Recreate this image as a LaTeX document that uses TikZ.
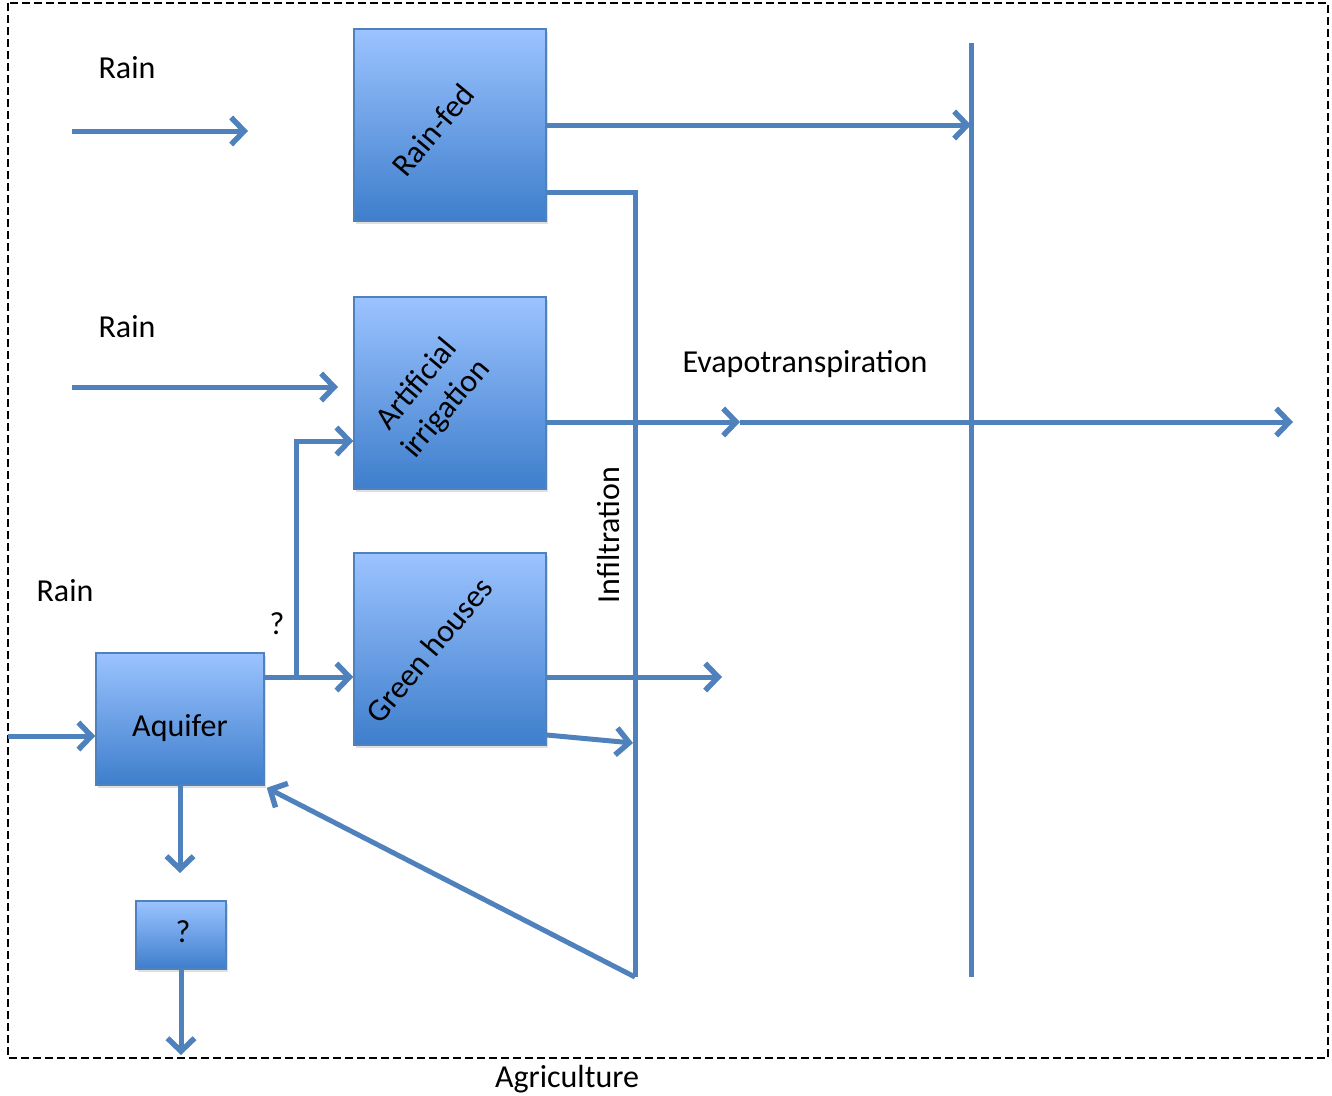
\documentclass[tikz,border=0pt]{standalone}
\usepackage{fontspec}
\setmainfont{Carlito}
\usetikzlibrary{arrows.meta,shadows}
\definecolor{lineblue}{RGB}{79,129,189}
\definecolor{boxtop}{RGB}{155,195,255}
\definecolor{boxbot}{RGB}{62,126,204}
\begin{document}
\begin{tikzpicture}[x=1pt,y=-1pt,
  flow/.style={draw=lineblue,line width=5pt},
  arr/.style={flow,-{Straight Barb[length=13pt,width=27pt,line width=5.5pt]}},
  blk/.style={draw=lineblue,line width=1.5pt,top color=boxtop,bottom color=boxbot,
    shading angle=0,inner sep=0pt,
    drop shadow={shadow xshift=2pt,shadow yshift=-3pt,opacity=0.25}},
  lbl/.style={font=\fontsize{32}{38}\selectfont,text=black,inner sep=0pt}]
\useasboundingbox (0,0) rectangle (1332,1095);
\draw[line width=2pt,dash pattern=on 8pt off 4pt] (8,3) rectangle (1328,1058);
% boxes
\node[blk,minimum width=192pt,minimum height=192pt] (rf) at (450,125) {};
\node[lbl,rotate=50] at (433,130) {Rain-fed};
\node[blk,minimum width=192pt,minimum height=192pt] (ai) at (450,393) {};
\node[lbl,rotate=50,align=center] at (432,397) {Artificial\\irrigation};
\node[blk,minimum width=192pt,minimum height=192pt] (gh) at (450,649) {};
\node[lbl,rotate=50] at (429,650) {Green houses};
\node[blk,minimum width=168pt,minimum height=132pt] (aq) at (180,719) {};
\node[lbl] at (180,728) {Aquifer};
\node[blk,minimum width=90pt,minimum height=68pt] (qb) at (181,935) {};
\node[lbl] at (183,932) {?};
% labels
\node[lbl] (r1) at (127,68) {Rain};
\node[lbl] (r2) at (127,327) {Rain};
\node[lbl] (r3) at (65,591) {Rain};
\node[lbl] (q) at (277,624) {?};
\node[lbl] (et) at (805,364) {Evapotranspiration};
\node[lbl,rotate=90] (inf) at (608,535) {Infiltration};
\node[lbl] (ag) at (567,1079) {Agriculture};
% coordinates
\coordinate (r1s) at (72,131); \coordinate (r1e) at (248,131);
\coordinate (r2s) at (72,387);
\coordinate (aqin) at (8,736);
\coordinate (etTop) at (971,43); \coordinate (etBot) at (971,977);
\coordinate (infTop) at (635,192); \coordinate (infBot) at (635,977);
\coordinate (aiMid) at (740,422); \coordinate (aiEnd) at (1293,422);
\coordinate (ghEnd) at (722,677);
\coordinate (ghInf) at (633,743);
\coordinate (br) at (296,677); \coordinate (brTop) at (296,441);
\coordinate (qEnd) at (180,1055);
% connectors
\draw[flow] (etTop) -- (etBot);
\draw[flow,line join=miter] (rf.east |- infTop) -- (infTop) -- (infBot);
\draw[arr] (infBot) -- ([xshift=2pt,yshift=-2pt]aq.south east);
\draw[arr] (r1s) -- (r1e);
\draw[arr] (r2s) -- (338,387);
\draw[arr] (aqin) -- (aq.west |- aqin);
\draw[arr] (rf.east |- 0,125) -- (etTop |- 0,125);
\draw[arr] (ai.east |- aiMid) -- (aiMid);
\draw[arr] (aiMid) -- (aiEnd);
\draw[arr] (gh.east |- ghEnd) -- (ghEnd);
\draw[arr] (gh.east |- 0,735) -- (ghInf);
\draw[arr] (aq.east |- br) -- (gh.west |- br);
\draw[arr,line join=miter] (br) -- (brTop) -- (ai.west |- brTop);
\draw[arr] (aq.south) -- (180,873);
\draw[arr] (qb.south) -- (qb.south |- qEnd);
\end{tikzpicture}
\end{document}
